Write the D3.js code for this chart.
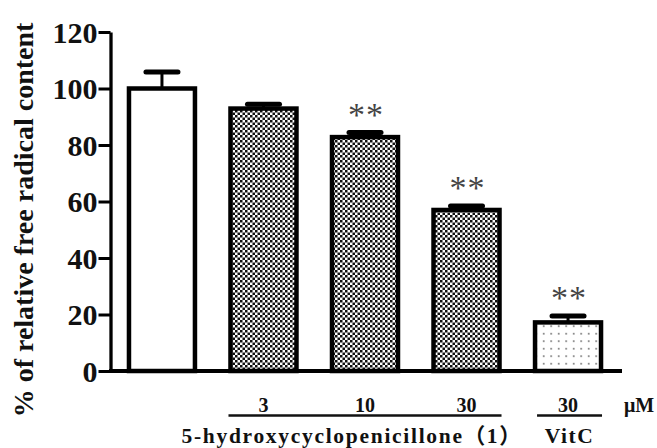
<!DOCTYPE html>
<html><head><meta charset="utf-8">
<script src="https://cdn.jsdelivr.net/npm/d3@7"></script>
<style>body{margin:0;background:#fff}svg{display:block}</style>
</head><body>
<svg id="c" width="657" height="448"></svg>
<script>
const categories = ["Control", "3", "10", "30", "VitC 30"];
const values = [100, 92.9, 82.8, 57.0, 17.2];
const errors = [5.8, 1.5, 1.6, 1.4, 2.3];
const fills = ["white", "checker", "checker", "checker", "dots"];
const stars = ["", "", "**", "**", "**"];
const yTicks = [0, 20, 40, 60, 80, 100, 120];
const doseLabels = ["", "3", "10", "30", "30"];
const yTitle = "% of relative free radical content";
const groupLabels = ["5-hydroxycyclopenicillone（1）", "VitC"];
const unit = "μM";

const svg = d3.select("#c");
const defs = svg.append("defs");
const chk = defs.append("pattern").attr("id","checker").attr("patternUnits","userSpaceOnUse")
  .attr("width",5).attr("height",5);
chk.append("rect").attr("width",5).attr("height",5).attr("fill","#fff");
chk.append("rect").attr("width",2.5).attr("height",2.5).attr("fill","#111");
chk.append("rect").attr("x",2.5).attr("y",2.5).attr("width",2.5).attr("height",2.5).attr("fill","#111");
const dt = defs.append("pattern").attr("id","dots").attr("patternUnits","userSpaceOnUse")
  .attr("width",7.5).attr("height",7.5);
dt.append("rect").attr("width",7.5).attr("height",7.5).attr("fill","#fff");
dt.append("circle").attr("cx",3.7).attr("cy",3.7).attr("r",0.85).attr("fill","#555");

const x = d3.scaleBand().domain(categories).range([111, 619]).paddingInner(0.35).paddingOuter(0.177);
const y = d3.scaleLinear().domain([0, 120]).range([371, 32]);
const serif = "'Liberation Serif','Times New Roman',serif";

// y axis
const ax = svg.append("g").attr("transform","translate(110.5,0)")
  .call(d3.axisLeft(y).tickValues(yTicks).tickSize(12).tickSizeOuter(0).tickPadding(1));
ax.select(".domain").attr("stroke","#000").attr("stroke-width",3.3);
ax.selectAll(".tick line").attr("stroke","#000").attr("stroke-width",3);
ax.selectAll(".tick text").attr("font-family",serif).attr("font-weight","bold")
  .attr("font-size",30).attr("fill","#111").attr("dy","0.34em");

// y title
svg.append("text").attr("transform",`translate(33,${(25+415)/2}) rotate(-90)`)
  .attr("text-anchor","middle").attr("font-family",serif).attr("font-weight","bold")
  .attr("font-size",28).attr("fill","#111").text(yTitle);

// bars
const bw = x.bandwidth();
const g = svg.append("g");
categories.forEach((c, i) => {
  const cx = x(c) + bw/2;
  const top = y(values[i] + errors[i]);
  g.append("line").attr("x1",cx).attr("x2",cx).attr("y1",y(values[i])).attr("y2",top)
    .attr("stroke","#000").attr("stroke-width",3);
  g.append("line").attr("x1",cx-16).attr("x2",cx+16).attr("y1",top).attr("y2",top)
    .attr("stroke","#000").attr("stroke-width",5).attr("stroke-linecap","round");
  g.append("rect").attr("x",x(c)).attr("y",y(values[i])).attr("width",bw)
    .attr("height",y(0)-y(values[i]))
    .attr("fill", fills[i]==="white" ? "#fff" : `url(#${fills[i]})`)
    .attr("stroke","#000").attr("stroke-width",4.5);
  if (stars[i]) {
    g.append("text").attr("x",cx+1).attr("y",top-23+16).attr("text-anchor","middle")
      .attr("font-family",serif).attr("font-size",34).attr("fill","#444")
      .attr("letter-spacing","1px").text(stars[i]);
  }
  if (doseLabels[i]) {
    svg.append("text").attr("x",cx).attr("y",412).attr("text-anchor","middle")
      .attr("font-family",serif).attr("font-weight","bold").attr("font-size",20)
      .attr("fill","#111").text(doseLabels[i]);
  }
});

// baseline
svg.append("line").attr("x1",109).attr("x2",622).attr("y1",y(0)).attr("y2",y(0))
  .attr("stroke","#000").attr("stroke-width",3.8);

// group lines
const l1 = x(categories[1]) - 2, r1 = x(categories[3]) + bw + 2;
const l2 = x(categories[4]) + 2, r2 = x(categories[4]) + bw + 1;
svg.append("line").attr("x1",l1).attr("x2",r1).attr("y1",415.5).attr("y2",415.5)
  .attr("stroke","#111").attr("stroke-width",2.4);
svg.append("line").attr("x1",l2).attr("x2",r2).attr("y1",415.5).attr("y2",415.5)
  .attr("stroke","#111").attr("stroke-width",2.4);
svg.append("text").attr("x",624).attr("y",412).attr("font-family",serif).attr("font-weight","bold")
  .attr("font-size",20).attr("fill","#111").text(unit);
svg.append("text").attr("x",352).attr("y",443).attr("text-anchor","middle")
  .attr("font-family",serif + ",'Noto Sans CJK SC'").attr("font-weight","bold")
  .attr("font-size",21.5).attr("fill","#111").attr("letter-spacing","1.7px").text(groupLabels[0]);
svg.append("text").attr("x",(l2+r2)/2).attr("y",443).attr("text-anchor","middle")
  .attr("font-family",serif).attr("font-weight","bold")
  .attr("font-size",21.5).attr("fill","#111").attr("letter-spacing","1.5px").text(groupLabels[1]);
</script>
</body></html>
